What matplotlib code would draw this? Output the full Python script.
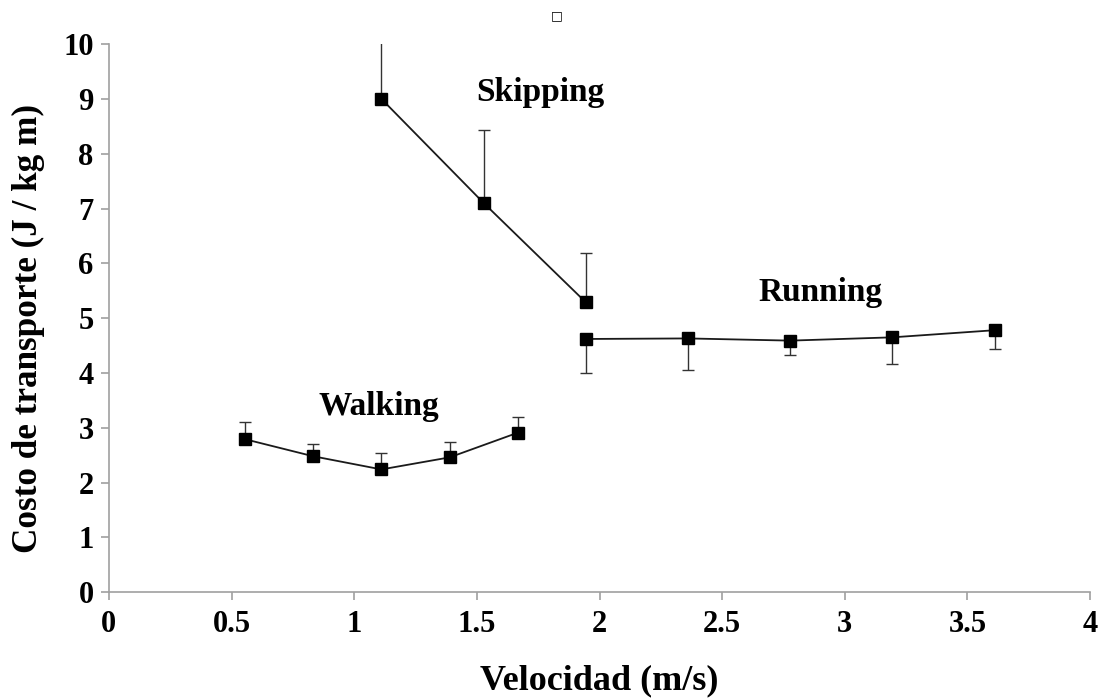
import matplotlib.pyplot as plt

# velocidades (m/s) y costo de transporte (J / kg m)
walk_x = [0.556, 0.833, 1.111, 1.389, 1.667]
walk_y = [2.79, 2.48, 2.24, 2.46, 2.91]
walk_err_up = [0.32, 0.23, 0.30, 0.28, 0.29]

skip_x = [1.111, 1.528, 1.944]
skip_y = [9.00, 7.10, 5.29]
skip_err_up = [1.40, 1.33, 0.90]

run_x = [1.944, 2.361, 2.778, 3.194, 3.611]
run_y = [4.62, 4.63, 4.59, 4.65, 4.78]
run_err_down = [0.62, 0.57, 0.27, 0.49, 0.35]

x_ticks = [0, 0.5, 1, 1.5, 2, 2.5, 3, 3.5, 4]
x_labels = ['0', '0.5', '1', '1.5', '2', '2.5', '3', '3.5', '4']
y_ticks = list(range(0, 11))

plt.rcParams['font.family'] = ['Liberation Serif', 'DejaVu Serif']
plt.rcParams['font.weight'] = 'bold'

fig = plt.figure(figsize=(11, 7), dpi=100)
ax = fig.add_axes([0.099, 0.154, 0.892, 0.783])

line_kw = dict(color='#1a1a1a', lw=1.3, marker='s', ms=8.5, mfc='black', mec='black',
               ecolor='#333333', elinewidth=1.0, capsize=4, capthick=1.0)

zeros5 = [0] * 5
ax.errorbar(walk_x, walk_y, yerr=[zeros5, walk_err_up], **line_kw)
ax.errorbar(skip_x, skip_y, yerr=[[0] * 3, skip_err_up], **line_kw)
ax.errorbar(run_x, run_y, yerr=[run_err_down, zeros5], **line_kw)

ax.text(1.76, 9.12, 'Skipping', fontsize=24, fontweight='bold', ha='center', va='center')
ax.text(2.90, 5.46, 'Running', fontsize=24, fontweight='bold', ha='center', va='center')
ax.text(1.10, 3.39, 'Walking', fontsize=24, fontweight='bold', ha='center', va='center')

ax.set_xlim(0, 4)
ax.set_ylim(0, 10)
ax.set_xticks(x_ticks)
ax.set_xticklabels(x_labels)
ax.set_yticks(y_ticks)

for s in ['top', 'right']:
    ax.spines[s].set_visible(False)
for s in ['left', 'bottom']:
    ax.spines[s].set_color('#a0a0a0')
    ax.spines[s].set_linewidth(1.2)

ax.tick_params(axis='both', direction='out', length=6, width=1.2, color='#a0a0a0',
               labelsize=22)
ax.tick_params(axis='x', pad=7)
ax.tick_params(axis='y', pad=5)
for lab in ax.get_xticklabels() + ax.get_yticklabels():
    lab.set_fontweight('bold')

ax.set_xlabel('Velocidad (m/s)', fontsize=26, fontweight='bold', labelpad=18)
ax.set_ylabel('Costo de transporte (J / kg m)', fontsize=25.3, fontweight='bold')
ax.yaxis.set_label_coords(-0.065, 0.482)

fig.text(0.506, 0.977, '□', fontsize=9, family='DejaVu Sans', ha='center', va='center')

fig.savefig('out.png', dpi=100)
